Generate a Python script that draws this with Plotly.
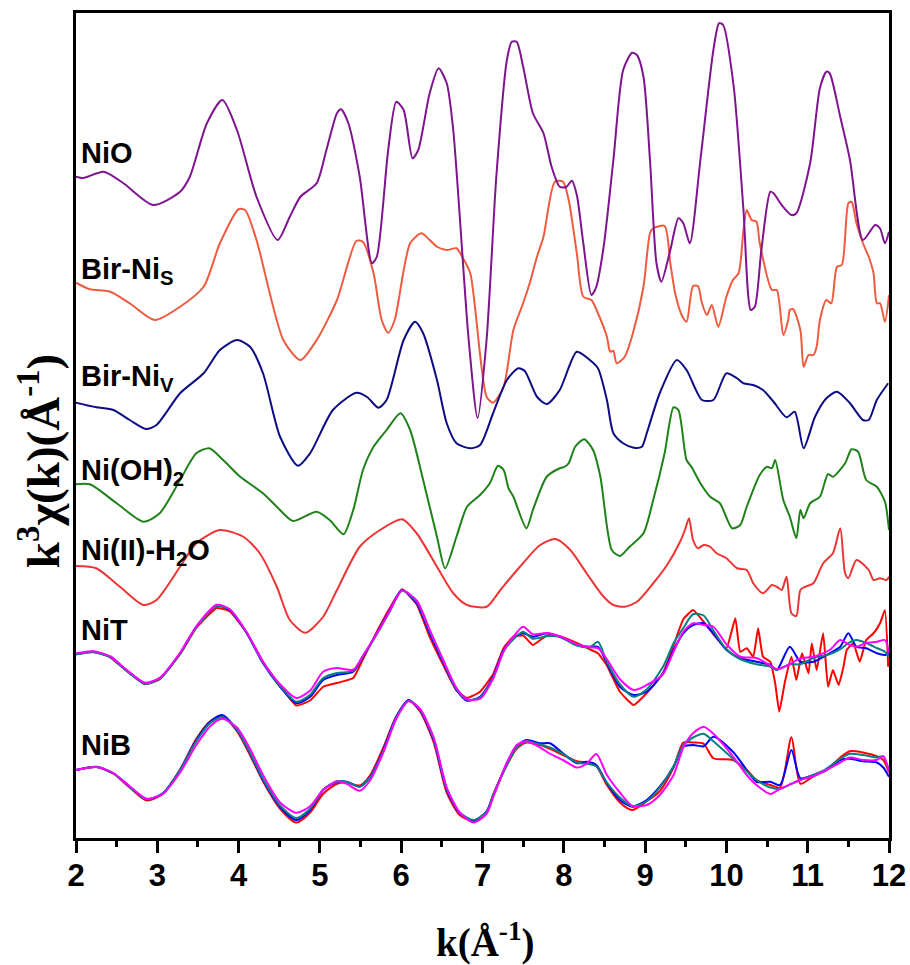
import plotly.graph_objects as go

# ---------------- data (k in 1/Angstrom, chi in arbitrary units) ----------------
names = ["NiO", "Bir-NiS", "Bir-NiV", "Ni(OH)2", "Ni(II)-H2O", "NiT", "NiB"]
offsets = [26.45, 22.21, 17.41, 14.15, 10.88, 7.35, 2.72]

NiO_k = [2.00, 2.09, 2.34, 2.58, 2.95, 3.28, 3.40, 3.61, 3.80, 3.98, 4.22, 4.48, 4.63, 4.76, 4.96,
         5.08, 5.21, 5.26, 5.35, 5.49, 5.64, 5.70, 5.84, 5.94, 6.03, 6.14, 6.21, 6.35, 6.46, 6.56,
         6.64, 6.83, 6.94, 7.05, 7.17, 7.30, 7.36, 7.42, 7.50, 7.62, 7.75, 7.85, 7.95, 8.03, 8.10,
         8.16, 8.24, 8.34, 8.40, 8.49, 8.61, 8.73, 8.84, 8.90, 8.98, 9.06, 9.14, 9.20, 9.31, 9.41,
         9.47, 9.55, 9.68, 9.84, 9.91, 9.96, 10.09, 10.21, 10.30, 10.35, 10.43, 10.54, 10.58, 10.68,
         10.80, 10.86, 11.03, 11.15, 11.23, 11.27, 11.40, 11.52, 11.68, 11.83, 11.89, 11.95, 12.00]
NiO_chi = [0.00, -0.05, 0.20, -0.25, -1.13, -0.60, 0.00, 2.14, 3.07, 1.87, -0.80, -2.53, -1.60, -0.80, -0.26,
           1.07, 2.54, 2.70, 2.14, 0.00, -3.46, -3.20, 1.07, 3.00, 2.67, 0.74, 1.07, 3.34, 4.34, 3.74,
           1.87, -6.53, -9.65, -6.53, 0.00, 4.67, 5.40, 5.40, 4.40, 2.54, 1.74, 0.40, -0.40, -0.41, -0.16,
           -0.73, -2.66, -4.73, -4.40, -2.80, 0.67, 4.27, 4.96, 4.87, 4.00, 0.67, -3.46, -4.20, -2.93, -1.66,
           -1.86, -2.66, 0.67, 5.07, 6.14, 6.07, 3.60, -1.33, -5.33, -5.20, -2.93, -0.60, -0.66, -1.13,
           -1.53, -1.46, 0.54, 3.54, 4.20, 4.14, 2.40, 0.67, -2.53, -1.93, -2.07, -2.66, -2.20]

BirS_k = [2.00, 2.17, 2.42, 2.66, 2.97, 3.28, 3.57, 3.77, 4.00, 4.08, 4.22, 4.55, 4.76, 4.96, 5.21,
          5.45, 5.53, 5.66, 5.76, 5.84, 5.92, 6.11, 6.25, 6.35, 6.44, 6.56, 6.68, 6.76, 6.85, 7.05,
          7.13, 7.26, 7.38, 7.50, 7.58, 7.67, 7.75, 7.89, 7.99, 8.06, 8.16, 8.24, 8.34, 8.42, 8.53,
          8.57, 8.61, 8.65, 8.75, 8.85, 8.98, 9.06, 9.10, 9.24, 9.31, 9.37, 9.45, 9.51, 9.59, 9.65,
          9.70, 9.76, 9.82, 9.90, 10.00, 10.08, 10.15, 10.21, 10.25, 10.31, 10.37, 10.41, 10.56, 10.62,
          10.70, 10.76, 10.78, 10.82, 10.91, 10.95, 11.01, 11.07, 11.11, 11.15, 11.23, 11.29, 11.36,
          11.42, 11.50, 11.54, 11.60, 11.68, 11.75, 11.81, 11.85, 11.89, 11.95, 12.00]
BirS_chi = [0.00, -0.26, -0.36, -0.82, -1.49, -0.96, -0.16, 1.58, 2.94, 2.91, 1.71, -2.29, -3.09, -2.29, -0.69,
            1.68, 1.63, 0.38, -1.49, -2.00, -1.49, 1.58, 1.98, 1.71, 1.44, 1.31, 1.38, 0.98, 0.38, -4.56,
            -4.80, -4.16, -1.89, -0.82, -0.02, 1.04, 1.84, 4.04, 4.04, 3.31, 1.18, -0.56, -0.69, -1.22, -2.16,
            -2.76, -2.72, -3.22, -2.96, -2.02, -0.16, 1.98, 2.18, 2.27, 0.78, -0.42, -1.29, -1.56, -0.13, -0.13,
            -0.82, -1.29, -0.89, -1.76, -0.56, 0.11, 0.38, 2.11, 2.91, 2.51, 2.44, 1.58, -0.29, -0.29,
            -2.09, -1.49, -1.09, -1.05, -1.89, -3.36, -2.89, -2.89, -2.56, -1.49, -0.69, -0.82, 0.64,
            0.71, 3.18, 3.24, 2.38, 1.58, 1.04, 0.38, -0.82, -0.82, -1.56, -0.49]

BirV_k = [2.00, 2.25, 2.46, 2.66, 2.86, 2.99, 3.28, 3.57, 3.77, 3.98, 4.14, 4.30, 4.51, 4.73, 4.88,
          5.16, 5.45, 5.58, 5.72, 5.82, 6.03, 6.17, 6.27, 6.44, 6.56, 6.68, 6.85, 6.97, 7.13, 7.30,
          7.44, 7.52, 7.67, 7.79, 7.95, 8.16, 8.32, 8.42, 8.53, 8.61, 8.73, 8.86, 8.96, 9.02, 9.18,
          9.39, 9.51, 9.70, 9.84, 10.00, 10.13, 10.21, 10.33, 10.45, 10.58, 10.74, 10.84, 10.95, 11.09,
          11.23, 11.36, 11.52, 11.68, 11.75, 11.85, 11.99]
BirV_chi = [0.00, -0.18, -0.29, -0.69, -1.05, -0.89, 0.38, 1.18, 2.11, 2.51, 2.24, 1.18, -1.36, -2.52, -2.02,
            -0.29, 0.40, 0.23, -0.20, 0.11, 2.51, 3.24, 2.78, 0.91, -0.82, -1.62, -1.82, -1.69, -0.42, 0.91,
            1.38, 1.27, 0.24, -0.05, 0.51, 2.04, 1.71, 1.38, 0.11, -1.22, -1.62, -1.80, -1.76, -1.22, 0.38,
            1.71, 1.31, 0.11, 0.11, 1.18, 0.98, 0.78, 0.71, 0.51, 0.04, -0.58, -0.36, -1.82, -0.56,
            0.18, 0.44, -0.02, -0.69, -0.69, 0.11, 0.78]

NiOH_k = [2.00, 2.17, 2.50, 2.83, 3.03, 3.28, 3.48, 3.64, 3.81, 4.02, 4.30, 4.47, 4.67, 4.96, 5.12,
          5.29, 5.41, 5.53, 5.66, 5.82, 5.99, 6.11, 6.27, 6.44, 6.54, 6.68, 6.81, 6.97, 7.09, 7.19,
          7.26, 7.32, 7.38, 7.54, 7.62, 7.79, 7.95, 8.01, 8.06, 8.14, 8.25, 8.36, 8.45, 8.59, 8.69,
          8.81, 8.98, 9.10, 9.24, 9.35, 9.41, 9.51, 9.57, 9.68, 9.80, 9.92, 10.07, 10.17, 10.25, 10.41,
          10.50, 10.56, 10.60, 10.70, 10.78, 10.86, 10.91, 10.95, 11.03, 11.15, 11.25, 11.31, 11.46,
          11.54, 11.62, 11.72, 11.85, 11.95, 12.00]
NiOH_chi = [0.00, 0.00, -0.76, -1.50, -1.16, 0.17, 1.24, 1.44, 0.97, 0.30, -0.36, -0.90, -1.47, -1.10, -1.43,
            -2.00, -1.03, 0.57, 1.50, 2.17, 2.84, 2.17, 0.17, -2.10, -3.36, -2.10, -0.90, -0.43, 0.04, 0.74,
            0.57, -0.16, -0.50, -1.76, -1.03, 0.30, 0.64, 0.70, 0.84, 1.50, 1.80, 1.37, 0.30, -2.63, -2.87,
            -2.50, -1.96, -0.63, 1.24, 3.08, 2.97, 0.97, 0.70, 0.04, -0.50, -0.76, -1.76, -1.63, -0.90, 0.37,
            0.70, 0.64, 0.97, -0.63, -1.30, -2.16, -1.03, -1.36, -0.76, -0.50, 0.41, 0.30, 0.84,
            1.40, 1.30, 0.17, -0.10, -0.70, -1.83]

NiH2O_k = [2.00, 2.25, 2.54, 2.83, 2.99, 3.28, 3.48, 3.77, 4.06, 4.26, 4.47, 4.63, 4.82, 5.04, 5.21,
           5.49, 5.74, 6.01, 6.19, 6.44, 6.64, 6.81, 7.05, 7.22, 7.46, 7.71, 7.90, 8.08, 8.28, 8.49,
           8.61, 8.75, 8.90, 9.10, 9.27, 9.43, 9.49, 9.54, 9.59, 9.65, 9.72, 9.80, 9.88, 10.00, 10.13,
           10.25, 10.33, 10.45, 10.56, 10.62, 10.68, 10.74, 10.80, 10.86, 10.91, 10.97, 11.07, 11.19,
           11.31, 11.40, 11.46, 11.50, 11.60, 11.75, 11.81, 11.89, 11.97, 12.00]
NiH2O_chi = [0.00, -0.09, -0.83, -1.56, -1.36, -0.03, 0.91, 1.44, 1.17, 0.51, -0.83, -2.16, -2.67, -2.03, -0.96,
             0.77, 1.44, 1.87, 1.31, -0.03, -1.09, -1.56, -1.63, -0.96, -0.03, 0.84, 1.08, 0.64, -0.29, -1.23,
             -1.56, -1.63, -1.43, -0.69, 0.04, 0.97, 1.44, 1.91, 1.04, 0.71, 0.84, 0.77, 0.51, 0.31, -0.09,
             -0.16, -0.69, -1.09, -0.76, -0.83, -0.96, -0.43, -1.89, -2.00, -0.96, -0.83, -0.69, 0.11,
             0.51, 1.51, -0.29, -0.49, 0.24, -0.16, -0.56, -0.49, -0.56, -0.43]

NiT_k = [2.00, 2.21, 2.42, 2.62, 2.85, 3.03, 3.28, 3.48, 3.73, 3.89, 4.10, 4.30, 4.51, 4.71, 4.88,
         5.04, 5.21, 5.41, 5.53, 5.70, 5.86, 6.01, 6.19, 6.35, 6.52, 6.68, 6.81, 6.97, 7.13, 7.26,
         7.38, 7.50, 7.62, 7.79, 7.95, 8.16, 8.32, 8.42, 8.53, 8.69, 8.86, 9.02, 9.22, 9.35, 9.47,
         9.59, 9.72, 9.84, 10.00, 10.17, 10.37, 10.54, 10.62, 10.78, 10.91, 11.07, 11.27, 11.40, 11.50,
         11.60, 11.72, 11.85, 11.95, 12.00]
NiT_blue = [0.00, 0.10, -0.10, -0.63, -1.16, -0.96, 0.04, 1.10, 1.94, 1.77,
            0.84, -0.36, -1.30, -1.96, -1.70, -1.03, -0.83, -0.70, -0.10, 0.84,
            1.77, 2.57, 2.04, 0.84, -0.36, -1.43, -1.86, -1.70, -0.90, 0.17,
            0.64, 0.84, 0.70, 0.84, 0.70, 0.37, 0.30, 0.30, -0.36, -1.30,
            -1.63, -1.50, -0.76, 0.17, 0.84, 1.17, 1.24, 0.84, 0.17, -0.16,
            -0.30, -0.43, -0.63, 0.30, -0.30, -0.30, 0.04, 0.30, 0.84, 0.30,
            0.24, 0.04, -0.03, 0.04]
NiT_teal = [0.00, 0.08, -0.12, -0.66, -1.18, -0.98, 0.02, 1.08, 1.92, 1.80,
            0.86, -0.33, -1.26, -1.90, -1.62, -0.95, -0.75, -0.66, -0.08, 0.80,
            1.72, 2.55, 2.10, 0.92, -0.30, -1.40, -1.82, -1.72, -0.95, 0.12,
            0.60, 0.90, 0.62, 0.72, 0.70, 0.35, 0.28, 0.50, -0.30, -1.20,
            -1.70, -1.40, -0.50, 0.44, 1.05, 1.60, 1.55, 0.95, 0.20, -0.20,
            -0.40, -0.50, -0.63, -0.40, -0.40, -0.15, 0.00, 0.20, 0.45, 0.57,
            0.45, 0.25, 0.10, -0.10]
NiT_magenta = [0.04, 0.12, -0.08, -0.62, -1.14, -0.94, 0.06, 1.12, 1.98, 1.80,
               0.88, -0.30, -1.20, -1.75, -1.45, -0.70, -0.55, -0.62, -0.05, 0.82,
               1.74, 2.55, 2.15, 0.98, -0.25, -1.35, -1.80, -1.78, -0.98, 0.12,
               0.70, 1.10, 0.80, 0.85, 0.72, 0.40, 0.28, 0.25, -0.20, -1.00,
               -1.43, -1.23, -0.80, 0.10, 0.90, 1.24, 1.17, 1.10, 0.40, -0.10,
               -0.15, -0.45, -0.60, -0.40, -0.16, -0.10, 0.17, 0.57, 0.40, 0.30,
               0.45, 0.50, 0.57, 0.04]
NiT_red_k = [2.00, 2.21, 2.42, 2.62, 2.85, 3.03, 3.28, 3.48, 3.73, 3.89, 4.10, 4.30, 4.51, 4.71, 4.88,
             5.04, 5.21, 5.41, 5.53, 5.70, 5.86, 6.01, 6.19, 6.35, 6.52, 6.68, 6.81, 6.97, 7.13, 7.26,
             7.38, 7.50, 7.62, 7.79, 7.95, 8.16, 8.32, 8.42, 8.53, 8.69, 8.86, 9.02, 9.22, 9.35, 9.47,
             9.59, 9.72, 9.84, 10.00, 10.11, 10.17, 10.25, 10.33, 10.39, 10.45, 10.54, 10.60, 10.65,
             10.72, 10.80, 10.86, 10.93, 11.01, 11.05, 11.11, 11.19, 11.25, 11.31, 11.38, 11.44, 11.48,
             11.56, 11.64, 11.72, 11.81, 11.89, 11.95, 11.99]
NiT_red = [0.00, 0.10, -0.12, -0.66, -1.20, -1.00, 0.00, 1.05, 1.85, 1.72,
           0.86, -0.30, -1.25, -2.05, -1.85, -1.30, -1.15, -0.95, -0.20, 0.90,
           1.85, 2.60, 2.00, 0.70, -0.45, -1.45, -1.75, -1.50, -0.80, 0.25,
           0.70, 0.75, 0.37, 0.75, 0.72, 0.45, 0.20, 0.04, -0.45, -1.50,
           -2.03, -1.55, -0.75, 0.35, 1.40, 1.77, 1.30, 0.80, 0.24,
           1.44, 0.10, 0.24, -0.10, 1.04, -0.10, -0.30, -1.16, -2.30, -1.10,
           -0.10, -1.03, 0.04, -0.76, 0.44, -0.63, 0.84, -1.30, -0.63, -1.23,
           -0.50, 0.17, 0.44, -0.30, 0.57, 0.84, 1.24, 1.77, -0.50]

NiB_k = [2.00, 2.25, 2.46, 2.66, 2.87, 3.07, 3.28, 3.48, 3.65, 3.80, 3.98, 4.14, 4.30, 4.51, 4.71,
         4.88, 5.04, 5.21, 5.33, 5.49, 5.62, 5.78, 5.94, 6.09, 6.23, 6.40, 6.56, 6.72, 6.89, 7.05,
         7.13, 7.30, 7.42, 7.54, 7.71, 7.83, 7.99, 8.16, 8.28, 8.40, 8.53, 8.69, 8.84, 9.02, 9.18,
         9.35, 9.47, 9.59, 9.72, 9.84, 10.08, 10.25, 10.37, 10.54, 10.66, 10.80, 10.91, 11.07, 11.23,
         11.40, 11.52, 11.68, 11.85, 11.93, 12.00]
NiB_blue = [0.00, 0.13, -0.13, -0.67, -1.17, -0.93, 0.00, 1.20, 1.93, 2.20,
            1.60, 0.67, -0.40, -1.47, -2.00, -1.60, -0.80, -0.47, -0.47, -0.67,
            -0.27, 0.80, 2.13, 2.80, 2.40, 1.20, -0.80, -1.73, -2.03, -1.65,
            -1.05, 0.27, 0.93, 1.20, 1.07, 1.07, 0.67, 0.27, 0.33, 0.20,
            -0.53, -1.20, -1.47, -1.20, -0.67, 0.13, 0.93, 1.00, 0.95, 1.33,
            0.73, 0.00, -0.47, -0.47, -0.60, 0.80, -0.33, -0.20, 0.00, 0.40,
            0.45, 0.35, 0.30, 0.10, -0.27]
NiB_red = [0.00, 0.12, -0.15, -0.70, -1.22, -0.95, 0.02, 1.25, 1.95, 2.15,
           1.55, 0.60, -0.45, -1.55, -2.10, -1.70, -0.95, -0.55, -0.50, -0.62,
           -0.20, 0.90, 2.15, 2.78, 2.35, 1.10, -0.90, -1.80, -2.05, -1.70,
           -1.00, 0.20, 0.85, 1.10, 1.00, 0.85, 0.60, 0.35, 0.30, 0.15,
           -0.60, -1.30, -1.60, -1.25, -0.85, 0.10, 1.10, 1.10, 1.05, 0.47,
           0.40, 0.00, -0.40, -0.60, -0.70, 1.31, -0.55, -0.25, 0.00, 0.50,
           0.75, 0.70, 0.55, 0.40, -0.10]
NiB_teal = [0.00, 0.12, -0.14, -0.68, -1.18, -0.92, 0.00, 1.15, 1.88, 2.12,
            1.62, 0.70, -0.35, -1.42, -1.92, -1.55, -0.78, -0.45, -0.48, -0.66,
            -0.28, 0.75, 2.10, 2.78, 2.42, 1.25, -0.75, -1.70, -2.00, -1.68,
            -1.00, 0.20, 0.90, 1.15, 1.02, 0.90, 0.65, 0.30, 0.25, 0.15,
            -0.50, -1.10, -1.45, -1.25, -0.70, 0.15, 1.00, 1.30, 1.45, 1.15,
            0.45, -0.05, -0.40, -0.70, -0.75, -0.55, -0.40, -0.20, 0.05, 0.45,
            0.65, 0.60, 0.50, 0.55, -0.05]
NiB_magenta = [0.00, 0.12, -0.12, -0.65, -1.15, -0.95, -0.10, 1.00, 1.75, 2.05,
               1.70, 0.85, -0.20, -1.30, -1.71, -1.45, -0.80, -0.45, -0.55, -0.83,
               -0.40, 0.70, 2.05, 2.75, 2.45, 1.30, -0.70, -1.70, -2.10, -1.75,
               -1.10, 0.30, 1.00, 1.15, 0.90, 0.65, 0.40, 0.10, 0.25, 0.64,
               -0.20, -0.90, -1.43, -1.40, -1.00, -0.20, 0.90, 1.47, 1.73, 1.45,
               0.55, -0.20, -0.60, -0.96, -0.75, -0.55, -0.40, -0.25, 0.00, 0.30,
               0.50, 0.40, 0.40, 0.55, -0.05]

x_ticks = [2, 3, 4, 5, 6, 7, 8, 9, 10, 11, 12]

# ---------------- figure ----------------
fig = go.Figure()

def add(k, chi, off, color, w=2.0, smooth=0.7):
    fig.add_trace(go.Scatter(x=k, y=[off + v for v in chi], mode="lines",
                             line=dict(color=color, width=w, shape="spline", smoothing=smooth),
                             showlegend=False, hoverinfo="skip"))

add(BirS_k, BirS_chi, offsets[1], "#EE5B3E")
add(NiO_k, NiO_chi, offsets[0], "#7E148E")
add(BirV_k, BirV_chi, offsets[2], "#0C0C85")
add(NiOH_k, NiOH_chi, offsets[3], "#1E8218")
add(NiH2O_k, NiH2O_chi, offsets[4], "#EE3535")

add(NiT_red_k, NiT_red, offsets[5], "#FF0000", smooth=0.4)
add(NiT_k, NiT_blue, offsets[5], "#0000FF")
add(NiT_k, NiT_teal, offsets[5], "#078080")
add(NiT_k, NiT_magenta, offsets[5], "#FF00FF")

add(NiB_k, NiB_red, offsets[6], "#FF0000")
add(NiB_k, NiB_blue, offsets[6], "#0000FF")
add(NiB_k, NiB_teal, offsets[6], "#078080")
add(NiB_k, NiB_magenta, offsets[6], "#FF00FF")

label_font = dict(family="Liberation Sans, Arial, sans-serif", size=29, color="black")
labels = [
    ("<b>NiO</b>", 27.42),
    ("<b>Bir-Ni<sub>S</sub></b>", 22.70),
    ("<b>Bir-Ni<sub>V</sub></b>", 18.42),
    ("<b>Ni(OH)<sub>2</sub></b>", 14.64),
    ("<b>Ni(II)-H<sub>2</sub>O</b>", 11.44),
    ("<b>NiT</b>", 8.32),
    ("<b>NiB</b>", 3.74),
]
for txt, yv in labels:
    fig.add_annotation(x=2.04, y=yv, xref="x", yref="y", text=txt, showarrow=False,
                       xanchor="left", yanchor="middle", font=label_font)

# axis titles
fig.add_annotation(x=0.504, y=-0.124, xref="paper", yref="paper",
                   text="<b>k(Å<sup>-1</sup>)</b>", showarrow=False,
                   xanchor="center", yanchor="middle",
                   font=dict(family="Liberation Serif, Times New Roman, serif", size=39, color="black"))
fig.add_annotation(x=-0.044, y=0.457, xref="paper", yref="paper",
                   text="<b>k<sup>3</sup>χ(k)(Å<sup>-1</sup>)</b>", showarrow=False, textangle=-90,
                   xanchor="center", yanchor="middle",
                   font=dict(family="Liberation Serif, Times New Roman, serif", size=47, color="black"))

fig.update_layout(
    width=910, height=965,
    margin=dict(l=76, r=21, t=13, b=127, autoexpand=False),
    paper_bgcolor="white", plot_bgcolor="white",
    xaxis=dict(range=[2, 12], tickvals=x_ticks, ticktext=[str(t) for t in x_ticks],
               automargin=False,
               showline=True, mirror=True, linecolor="black", linewidth=3,
               ticks="outside", ticklen=12, tickwidth=2.5, tickcolor="black",
               ticklabelstandoff=-4,
               minor=dict(dtick=0.5, ticks="outside", ticklen=6, tickwidth=2.5, tickcolor="black"),
               tickfont=dict(family="Liberation Sans, Arial, sans-serif", size=31, color="black", weight="bold"),
               showgrid=False, zeroline=False),
    yaxis=dict(range=[0, 33], automargin=False, showline=True, mirror=True, linecolor="black", linewidth=3,
               showticklabels=False, ticks="", showgrid=False, zeroline=False),
)

fig.write_html("out.html")
